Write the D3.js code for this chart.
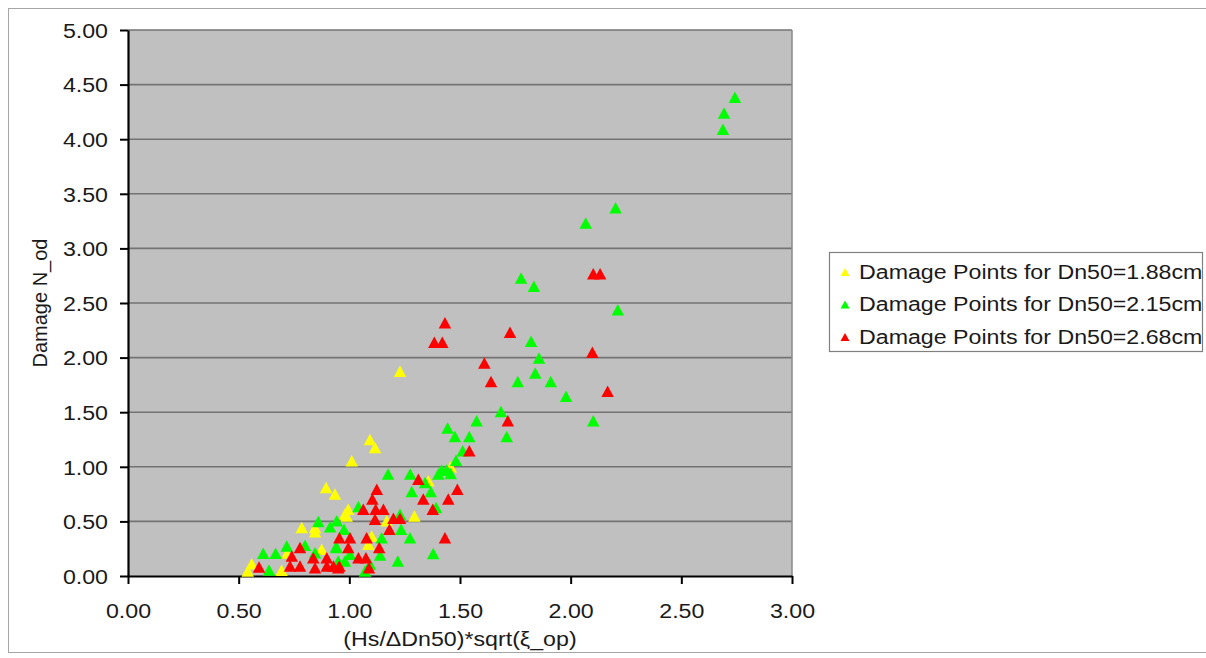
<!DOCTYPE html>
<html><head><meta charset="utf-8">
<script src="https://cdn.jsdelivr.net/npm/d3@7"></script>
<style>body{margin:0;background:#fff;} text{font-family:"Liberation Sans",Arial,sans-serif;fill:#1a1a1a;}</style>
</head><body><svg id="c" width="1206" height="658"></svg>
<script>
const seriesNames = ["Damage Points for Dn50=1.88cm","Damage Points for Dn50=2.15cm","Damage Points for Dn50=2.68cm"];
const seriesColors = ["#FFFF00","#00FF00","#FF0000"];
const xTicks = [0,0.5,1,1.5,2,2.5,3];
const yTicks = [0,0.5,1,1.5,2,2.5,3,3.5,4,4.5,5];
const yellowPts = [[0.541,0.046],[0.559,0.113],[0.694,0.052],[0.72,0.21],[0.785,0.443],[0.845,0.443],[0.845,0.406],[0.875,0.245],[0.895,0.81],[0.935,0.75],[0.98,0.566],[0.995,0.612],[0.988,0.55],[1.011,1.055],[1.093,1.25],[1.116,1.177],[1.101,0.367],[1.086,0.291],[1.169,0.505],[1.229,1.874],[1.294,0.55],[1.357,0.872],[1.458,1.0]];
const greenPts = [[2.742,4.385],[2.693,4.239],[2.688,4.092],[2.203,3.373],[2.068,3.232],[1.776,2.728],[1.834,2.654],[2.213,2.438],[1.821,2.15],[1.857,1.997],[1.84,1.86],[1.761,1.78],[1.91,1.78],[1.979,1.645],[1.685,1.507],[1.575,1.422],[2.102,1.422],[1.542,1.278],[1.711,1.278],[1.477,1.278],[1.444,1.355],[1.512,1.147],[1.482,1.061],[1.417,0.97],[1.44,0.97],[1.458,0.939],[1.402,0.933],[1.175,0.933],[1.275,0.933],[1.342,0.856],[1.368,0.773],[1.282,0.773],[1.041,0.636],[1.392,0.627],[1.229,0.566],[1.234,0.428],[0.943,0.505],[0.913,0.452],[0.976,0.428],[1.274,0.351],[1.146,0.351],[1.139,0.193],[0.943,0.26],[1.219,0.138],[1.379,0.205],[0.98,0.138],[1.093,0.11],[1.071,0.046],[0.611,0.208],[0.637,0.055],[0.667,0.208],[0.717,0.275],[0.8,0.282],[0.86,0.498],[0.845,0.214],[0.94,0.269],[0.95,0.138],[1.003,0.199]];
const redPts = [[2.102,2.768],[2.133,2.768],[1.726,2.232],[2.098,2.049],[1.61,1.951],[1.64,1.78],[2.167,1.691],[1.716,1.422],[1.542,1.147],[1.432,2.318],[1.384,2.14],[1.42,2.14],[1.312,0.887],[1.124,0.795],[1.488,0.795],[1.104,0.704],[1.334,0.704],[1.447,0.704],[1.063,0.612],[1.119,0.612],[1.154,0.612],[1.377,0.612],[1.116,0.52],[1.199,0.529],[1.229,0.529],[1.181,0.428],[1.432,0.351],[0.955,0.351],[1.003,0.351],[1.078,0.351],[1.135,0.26],[0.995,0.26],[1.041,0.168],[1.075,0.168],[0.928,0.092],[0.955,0.092],[1.089,0.076],[0.592,0.083],[0.74,0.183],[0.777,0.26],[0.732,0.092],[0.777,0.092],[0.837,0.168],[0.898,0.168],[0.845,0.076],[0.898,0.092],[0.95,0.076]];
const allSeries = [yellowPts, greenPts, redPts];

const SX = 1.16, FS = 20;
const svg = d3.select("#c");
const L = 128, R = 792, T = 30, B = 576;
const x = d3.scaleLinear().domain([0,3]).range([L,R]);
const y = d3.scaleLinear().domain([0,5]).range([B,T]);

// outer frame
svg.append("rect").attr("x",8.5).attr("y",8.5).attr("width",1210).attr("height",644)
  .attr("fill","none").attr("stroke","#a6a6a6").attr("stroke-width",1);
// plot background
svg.append("rect").attr("x",L).attr("y",T).attr("width",R-L).attr("height",B-T).attr("fill","#C0C0C0");
// gridlines
svg.append("g").selectAll("line").data(yTicks.filter(d=>d>0)).join("line")
  .attr("x1",L).attr("x2",R).attr("y1",d=>y(d)).attr("y2",d=>y(d))
  .attr("stroke","#737373").attr("stroke-width",1.6);
svg.append("line").attr("x1",R).attr("x2",R).attr("y1",T).attr("y2",B).attr("stroke","#8a8a8a").attr("stroke-width",1.5);

// axes
const yAxis = svg.append("g").attr("transform",`translate(${L},0)`)
  .call(d3.axisLeft(y).tickValues(yTicks).tickFormat(d3.format(".2f")).tickSize(8).tickSizeOuter(0));
const xAxis = svg.append("g").attr("transform",`translate(0,${B})`)
  .call(d3.axisBottom(x).tickValues(xTicks).tickFormat(d3.format(".2f")).tickSize(8).tickSizeOuter(0));
[yAxis,xAxis].forEach(a=>{
  a.select(".domain").attr("stroke","#000").attr("stroke-width",2.2);
  a.selectAll(".tick line").attr("stroke","#000").attr("stroke-width",2);
  a.selectAll("text").style("font-family",'"Liberation Sans",Arial,sans-serif').style("font-size",FS+"px").attr("fill","#1a1a1a");
});
yAxis.selectAll(".tick text").attr("x",null).attr("dy",null).attr("text-anchor","end")
  .attr("transform",`translate(-20,7.2) scale(${SX},1)`);
xAxis.selectAll(".tick text").attr("y",null).attr("dy",null).attr("text-anchor","middle")
  .attr("transform",`translate(0,42) scale(${SX},1)`);

// axis titles
svg.append("text").attr("text-anchor","middle").style("font-size",FS+"px")
  .attr("transform",`translate(${(L+R)/2},646) scale(${SX},1)`).text("(Hs/ΔDn50)*sqrt(ξ_op)");
svg.append("text").attr("text-anchor","middle").style("font-size",FS+"px")
  .attr("transform",`translate(47,${(T+B)/2}) rotate(-90)`).text("Damage N_od");

// markers
const tri = (w,h)=>`M0,${-h/2}L${w/2},${h/2}L${-w/2},${h/2}Z`;
const plot = svg.append("g");
allSeries.forEach((pts,i)=>{
  plot.append("g").selectAll("path").data(pts).join("path")
    .attr("d",tri(12.5,11.5)).attr("fill",seriesColors[i])
    .attr("transform",d=>`translate(${x(d[0])},${y(d[1])})`);
});

// legend
const lg = svg.append("g");
lg.append("rect").attr("x",829.5).attr("y",252.5).attr("width",373).attr("height",99)
  .attr("fill","#fff").attr("stroke","#808080").attr("stroke-width",1.2);
seriesNames.forEach((n,i)=>{
  const cy = 271 + i*32.5;
  lg.append("path").attr("d",tri(9,8)).attr("fill",seriesColors[i]).attr("transform",`translate(845,${cy+1})`);
  lg.append("text").style("font-size",FS+"px").attr("transform",`translate(859,${cy+7.5}) scale(${SX},1)`).text(n);
});
</script></body></html>
